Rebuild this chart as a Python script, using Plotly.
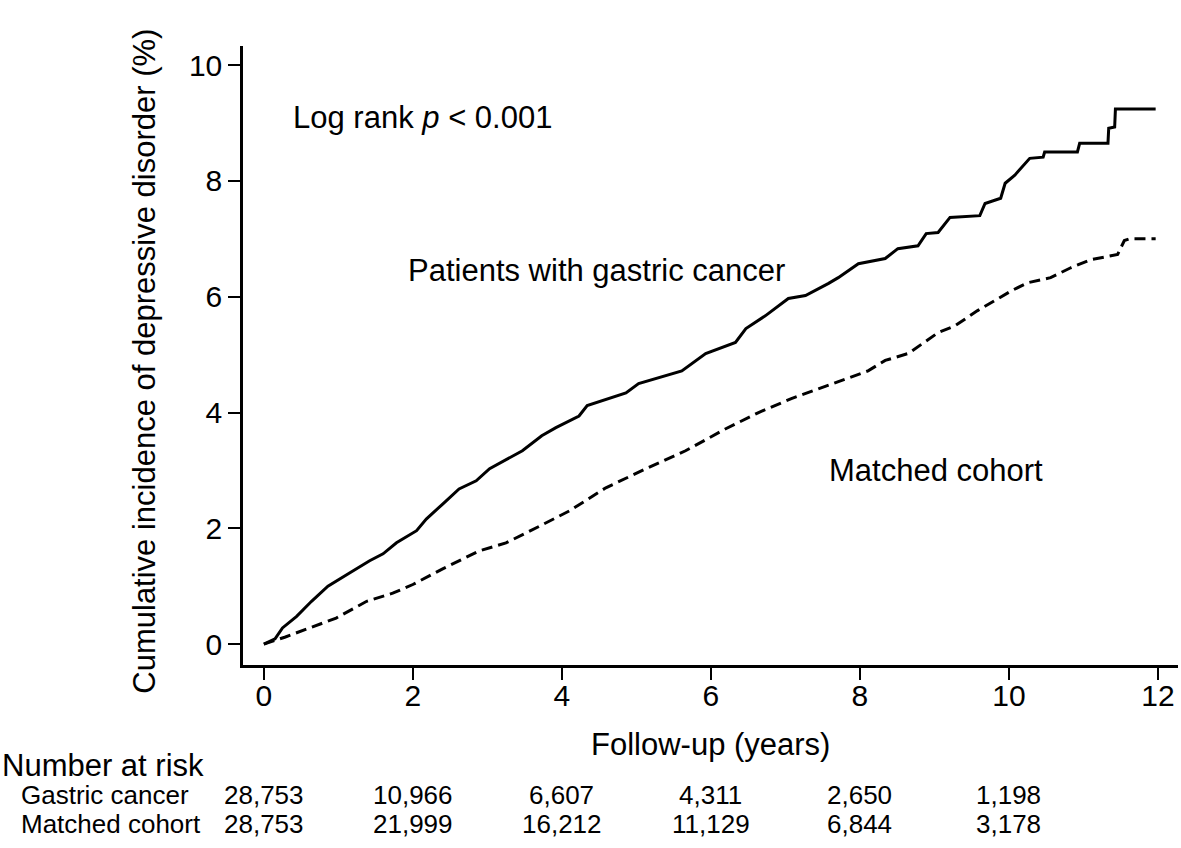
import plotly.graph_objects as go

# Cumulative incidence (%)
gastric_t = [0, 0.15, 0.25, 0.44, 0.64, 0.86, 1.15, 1.42, 1.6, 1.78, 2.05, 2.18, 2.4, 2.62, 2.85,
             3.03, 3.47, 3.73, 3.92, 4.1, 4.23, 4.34, 4.86, 5.03, 5.61, 5.93, 6.33, 6.47, 6.73,
             7.04, 7.27, 7.58, 7.71, 7.98, 8.34, 8.51, 8.78, 8.89, 9.05, 9.21, 9.61, 9.68, 9.89,
             9.95, 10.08, 10.28, 10.46, 10.48, 10.92, 10.95, 11.33, 11.34, 11.42, 11.43, 11.97]
gastric_y = [0, 0.09, 0.28, 0.48, 0.74, 1.0, 1.23, 1.44, 1.56, 1.75, 1.96, 2.16, 2.42, 2.68, 2.82,
             3.03, 3.34, 3.6, 3.74, 3.86, 3.94, 4.12, 4.34, 4.5, 4.72, 5.02, 5.21, 5.45, 5.67,
             5.97, 6.02, 6.23, 6.33, 6.57, 6.66, 6.83, 6.88, 7.09, 7.11, 7.37, 7.40, 7.61, 7.70,
             7.96, 8.10, 8.39, 8.41, 8.50, 8.50, 8.65, 8.65, 8.91, 8.93, 9.24, 9.24]

matched_t = [0, 0.28, 0.97, 1.38, 1.73, 2.0, 2.4, 2.89, 3.25, 3.52, 4.1, 4.59, 5.13, 5.66, 6.2,
             6.64, 7.08, 7.54, 8.11, 8.34, 8.65, 9.05, 9.28, 9.58, 9.76, 10.03, 10.25, 10.56,
             10.83, 11.1, 11.46, 11.55, 11.62, 11.97]
matched_y = [0, 0.12, 0.45, 0.74, 0.88, 1.03, 1.3, 1.61, 1.75, 1.92, 2.3, 2.7, 3.03, 3.34, 3.72,
             4.0, 4.24, 4.46, 4.72, 4.9, 5.02, 5.38, 5.5, 5.76, 5.9, 6.1, 6.24, 6.33,
             6.5, 6.64, 6.73, 6.97, 7.0, 7.0]

risk_times = [0, 2, 4, 6, 8, 10]
risk_gastric = ["28,753", "10,966", "6,607", "4,311", "2,650", "1,198"]
risk_matched = ["28,753", "21,999", "16,212", "11,129", "6,844", "3,178"]

x_ticks = [0, 2, 4, 6, 8, 10, 12]
y_ticks = [0, 2, 4, 6, 8, 10]

FONT = "Liberation Sans, Arial, Helvetica, sans-serif"
BIG = 31
TICK = 30
SMALL = 26

fig = go.Figure()
fig.add_trace(go.Scatter(x=gastric_t, y=gastric_y, mode="lines",
                         line=dict(color="black", width=3), hoverinfo="skip"))
fig.add_trace(go.Scatter(x=matched_t, y=matched_y, mode="lines",
                         line=dict(color="black", width=3, dash="11px,6px"), hoverinfo="skip"))

ann = []
ann.append(dict(x=0.36, y=9.1, xref="x", yref="y", text="Log rank <i>p</i> < 0.001",
                xanchor="left", yanchor="middle", showarrow=False, font=dict(size=BIG)))
ann.append(dict(x=1.91, y=6.46, xref="x", yref="y", text="Patients with gastric cancer",
                xanchor="left", yanchor="middle", showarrow=False, font=dict(size=BIG)))
ann.append(dict(x=7.56, y=3.0, xref="x", yref="y", text="Matched cohort",
                xanchor="left", yanchor="middle", showarrow=False, font=dict(size=BIG)))
# axis titles
ann.append(dict(x=0.5, y=-0.129, xref="paper", yref="paper", text="Follow-up (years)",
                xanchor="center", yanchor="middle", showarrow=False, font=dict(size=BIG)))
ann.append(dict(x=-0.1048, y=0.49, xref="paper", yref="paper",
                text="Cumulative incidence of depressive disorder (%)", textangle=-90,
                xanchor="center", yanchor="middle", showarrow=False, font=dict(size=BIG)))
# risk table
ROW0, ROW1, ROW2 = -0.1616, -0.210, -0.257
ann.append(dict(x=-0.2599, y=ROW0, xref="paper", yref="paper", text="Number at risk",
                xanchor="left", yanchor="middle", showarrow=False, font=dict(size=BIG)))
ann.append(dict(x=-0.2396, y=ROW1, xref="paper", yref="paper", text="Gastric cancer",
                xanchor="left", yanchor="middle", showarrow=False, font=dict(size=SMALL)))
ann.append(dict(x=-0.2396, y=ROW2, xref="paper", yref="paper", text="Matched cohort",
                xanchor="left", yanchor="middle", showarrow=False, font=dict(size=SMALL)))
for t, g, m in zip(risk_times, risk_gastric, risk_matched):
    ann.append(dict(x=t, y=ROW1, xref="x", yref="paper", text=g, xanchor="center",
                    yanchor="middle", showarrow=False, font=dict(size=SMALL)))
    ann.append(dict(x=t, y=ROW2, xref="x", yref="paper", text=m, xanchor="center",
                    yanchor="middle", showarrow=False, font=dict(size=SMALL)))

fig.update_layout(
    width=1181, height=848,
    margin=dict(l=243, r=3, t=46, b=183),
    paper_bgcolor="white", plot_bgcolor="white",
    showlegend=False,
    font=dict(family=FONT, color="black", size=BIG),
    annotations=ann,
    xaxis=dict(range=[-0.28, 12.27], tickvals=x_ticks, ticktext=[str(v) for v in x_ticks],
               showgrid=False, zeroline=False, showline=True, linecolor="black", linewidth=2.5,
               ticks="outside", ticklen=12, tickwidth=2, tickcolor="black",
               ticklabelstandoff=-10,
               tickfont=dict(size=TICK), fixedrange=True),
    yaxis=dict(range=[-0.36, 10.33], tickvals=y_ticks, ticktext=[str(v) for v in y_ticks],
               showgrid=False, zeroline=False, showline=True, linecolor="black", linewidth=2.5,
               ticks="outside", ticklen=12, tickwidth=2, tickcolor="black",
               tickfont=dict(size=TICK), fixedrange=True),
)

fig.write_html("out.html", config={"displayModeBar": False},
               post_script="document.body.style.margin='0px';document.body.style.padding='0px';")
